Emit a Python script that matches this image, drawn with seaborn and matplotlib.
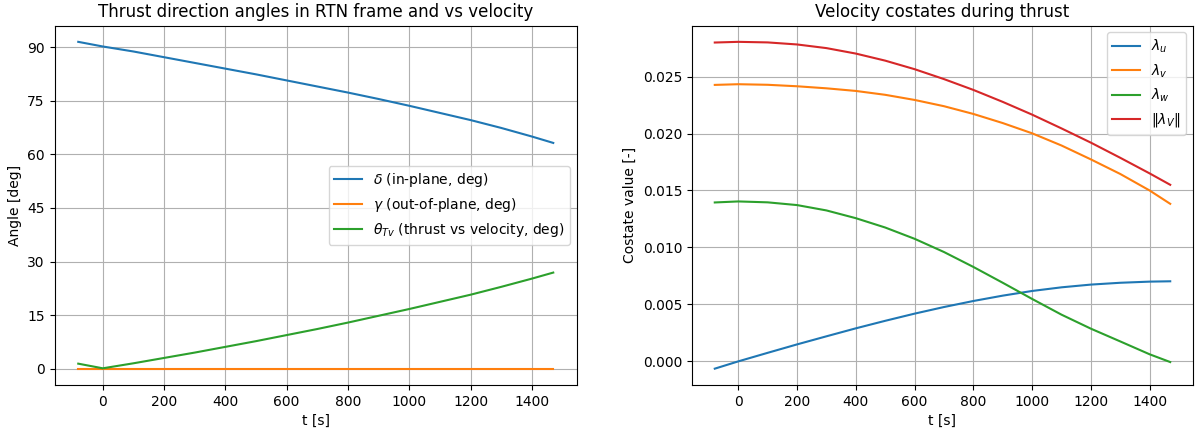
import numpy as np
import pandas as pd
import seaborn as sns
import matplotlib.pyplot as plt
from matplotlib.ticker import MultipleLocator

# time samples [s]
t = [-80, 0, 100, 200, 300, 400, 500, 600, 700, 800, 900, 1000, 1100, 1200, 1300, 1400, 1470]

# thrust angles [deg]
delta = [91.5, 90.2, 88.8, 87.2, 85.6, 84.0, 82.4, 80.7, 79.0, 77.3, 75.5, 73.6, 71.6, 69.6, 67.4, 65.0, 63.2]
gamma = [0.0] * len(t)
theta_tv = [1.4, 0.1, 1.5, 3.0, 4.5, 6.1, 7.7, 9.4, 11.1, 12.9, 14.8, 16.7, 18.7, 20.7, 22.9, 25.2, 26.9]

# velocity costates
lam_u = [-0.00064, 0.0, 0.00075, 0.00149, 0.0022, 0.0029, 0.00356, 0.00419, 0.00477, 0.0053,
         0.00577, 0.00618, 0.0065, 0.00674, 0.0069, 0.0070, 0.00703]
lam_v = [0.02427, 0.02433, 0.02428, 0.02415, 0.02397, 0.02374, 0.0234, 0.02295, 0.0224, 0.02172,
         0.02092, 0.02002, 0.01895, 0.01773, 0.01645, 0.0150, 0.01383]
lam_w = [0.01395, 0.01404, 0.01396, 0.01372, 0.01325, 0.01257, 0.01175, 0.01076, 0.0096, 0.00829,
         0.0069, 0.00548, 0.0041, 0.00287, 0.00175, 0.00062, -0.00006]
lam_norm = [0.02799, 0.02805, 0.02800, 0.02782, 0.02750, 0.02702, 0.0264, 0.02565, 0.02478, 0.02383,
            0.02278, 0.02166, 0.02045, 0.0192, 0.01787, 0.0165, 0.0155]

fig, (ax1, ax2) = plt.subplots(1, 2, figsize=(11.96, 4.3), dpi=100)

# 왼쪽: 추력 방향 각도
sns.lineplot(x=t, y=delta, ax=ax1, color="C0", label=r"$\delta$ (in-plane, deg)")
sns.lineplot(x=t, y=gamma, ax=ax1, color="C1", label=r"$\gamma$ (out-of-plane, deg)")
sns.lineplot(x=t, y=theta_tv, ax=ax1, color="C2", label=r"$\theta_{Tv}$ (thrust vs velocity, deg)")
ax1.set_title("Thrust direction angles in RTN frame and vs velocity")
ax1.set_xlabel("t [s]")
ax1.set_ylabel("Angle [deg]")
ax1.yaxis.set_major_locator(MultipleLocator(15))
ax1.grid(True)
ax1.legend(loc="center right")

# 오른쪽: 속도 costate
sns.lineplot(x=t, y=lam_u, ax=ax2, color="C0", label=r"$\lambda_u$")
sns.lineplot(x=t, y=lam_v, ax=ax2, color="C1", label=r"$\lambda_v$")
sns.lineplot(x=t, y=lam_w, ax=ax2, color="C2", label=r"$\lambda_w$")
sns.lineplot(x=t, y=lam_norm, ax=ax2, color="C3", label=r"$\|\lambda_V\|$")
ax2.set_title("Velocity costates during thrust")
ax2.set_xlabel("t [s]")
ax2.set_ylabel("Costate value [-]")
ax2.grid(True)
ax2.legend(loc="upper right")

# 축 위치 (픽셀 기준으로 맞춤)
W, H = 1196, 430
ax1.set_position([54.5 / W, 1 - 385 / H, (577 - 54.5) / W, (385 - 25.5) / H])
ax2.set_position([692 / W, 1 - 385 / H, (1193 - 692) / W, (385 - 25.5) / H])

plt.savefig("out.png")
